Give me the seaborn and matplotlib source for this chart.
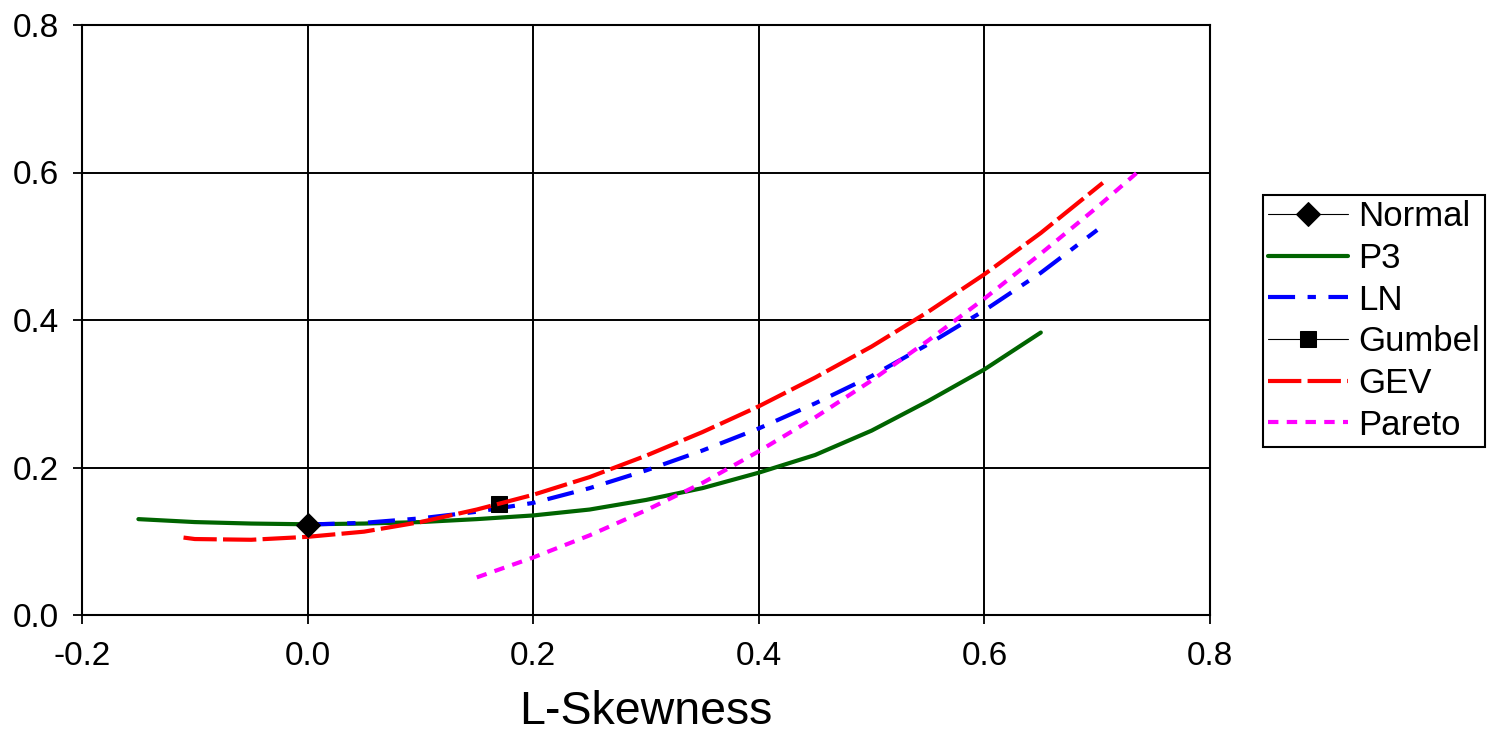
import matplotlib
matplotlib.use("Agg")
import matplotlib.pyplot as plt
import seaborn as sns
import pandas as pd
from matplotlib.ticker import FormatStrFormatter

# ---- data ----
normal_x = [0.0]
normal_y = [0.1226]

gumbel_x = [0.1699]
gumbel_y = [0.1504]

p3_x = [-0.15, -0.10, -0.05, 0.00, 0.05, 0.10, 0.15, 0.20, 0.25, 0.30,
        0.35, 0.40, 0.45, 0.50, 0.55, 0.60, 0.65]
p3_y = [0.130, 0.126, 0.124, 0.123, 0.124, 0.126, 0.130, 0.135, 0.143, 0.156,
        0.172, 0.193, 0.217, 0.250, 0.290, 0.333, 0.383]

ln_x = [0.00, 0.05, 0.10, 0.15, 0.20, 0.25, 0.30, 0.35, 0.40, 0.45,
        0.50, 0.55, 0.60, 0.65, 0.70]
ln_y = [0.1226, 0.125, 0.131, 0.140, 0.152, 0.172, 0.196, 0.223, 0.253, 0.287,
        0.324, 0.367, 0.413, 0.464, 0.522]

gev_x = [-0.11, -0.10, -0.05, 0.00, 0.05, 0.10, 0.15, 0.20, 0.25, 0.30,
         0.35, 0.40, 0.45, 0.50, 0.55, 0.60, 0.65, 0.705]
gev_y = [0.105, 0.103, 0.102, 0.106, 0.113, 0.126, 0.143, 0.163, 0.187, 0.216,
         0.248, 0.283, 0.322, 0.364, 0.411, 0.462, 0.518, 0.586]

pareto_x = [0.15, 0.20, 0.25, 0.30, 0.35, 0.40, 0.45, 0.50, 0.55, 0.60,
            0.65, 0.70, 0.74]
pareto_y = [0.051, 0.078, 0.108, 0.142, 0.179, 0.222, 0.268, 0.318, 0.372, 0.429,
            0.490, 0.553, 0.606]

x_ticks = [-0.2, 0.0, 0.2, 0.4, 0.6, 0.8]
y_ticks = [0.0, 0.2, 0.4, 0.6, 0.8]
x_label = "L-Skewness"

# ---- style ----
sns.set_style("white")
plt.rcParams['font.family'] = ['Liberation Sans', 'DejaVu Sans']
plt.rcParams['axes.unicode_minus'] = False
plt.rcParams['text.color'] = 'black'
plt.rcParams['axes.labelcolor'] = 'black'
plt.rcParams['xtick.color'] = 'black'
plt.rcParams['ytick.color'] = 'black'

fig = plt.figure(figsize=(14.89, 7.34), dpi=100)
ax = fig.add_axes([82 / 1489, 1 - 615 / 734, (1210 - 82) / 1489, (615 - 25) / 734])

lw = 3.0

def frame(x, y):
    return pd.DataFrame({"x": x, "y": y})

sns.lineplot(data=frame(normal_x, normal_y), x="x", y="y", ax=ax, color="black",
             marker="D", markersize=12, markeredgecolor="black", linewidth=0.8,
             label="Normal", sort=False, estimator=None, zorder=10)
sns.lineplot(data=frame(p3_x, p3_y), x="x", y="y", ax=ax, color="#006400",
             linewidth=lw, label="P3", sort=False, estimator=None, zorder=4)
sns.lineplot(data=frame(ln_x, ln_y), x="x", y="y", ax=ax, color="#0000FF",
             linewidth=lw, linestyle=(0, (6.5, 3, 2, 3)), label="LN",
             sort=False, estimator=None, zorder=5)
sns.lineplot(data=frame(gumbel_x, gumbel_y), x="x", y="y", ax=ax, color="black",
             marker="s", markersize=11, markeredgecolor="black", linewidth=0.8,
             label="Gumbel", sort=False, estimator=None, zorder=6)
sns.lineplot(data=frame(gev_x, gev_y), x="x", y="y", ax=ax, color="#FF0000",
             linewidth=lw, linestyle=(0, (8, 1.5)), label="GEV",
             sort=False, estimator=None, zorder=7)
sns.lineplot(data=frame(pareto_x, pareto_y), x="x", y="y", ax=ax, color="#FF00FF",
             linewidth=lw, linestyle=(0, (2.5, 2)), label="Pareto",
             sort=False, estimator=None, zorder=8)

ax.set_xlim(-0.2, 0.8)
ax.set_ylim(0.0, 0.8)
ax.set_xticks(x_ticks)
ax.set_yticks(y_ticks)
ax.xaxis.set_major_formatter(FormatStrFormatter('%.1f'))
ax.yaxis.set_major_formatter(FormatStrFormatter('%.1f'))
ax.grid(True, color="black", linewidth=1.4)
ax.set_axisbelow(True)
for s in ax.spines.values():
    s.set_color("black")
    s.set_linewidth(1.5)
ax.tick_params(axis="both", which="major", direction="out", length=6.5, width=1.3,
               color="black", labelcolor="black", labelsize=24, left=True, bottom=True)
ax.tick_params(axis="x", pad=12)
ax.tick_params(axis="y", pad=10)
ax.set_xlabel(x_label, fontsize=33.5, labelpad=13, color="black")
ax.set_ylabel("")

handles, labels = ax.get_legend_handles_labels()
leg = ax.legend(handles, labels, loc="upper left",
                bbox_to_anchor=(1263 / 1489, 1 - 195 / 734),
                bbox_transform=fig.transFigure, fontsize=25,
                frameon=True, fancybox=False, framealpha=1, edgecolor="black",
                borderpad=0.15, labelspacing=0.25, handlelength=2.3,
                handletextpad=0.3, borderaxespad=0, numpoints=1)
leg.get_frame().set_linewidth(1.5)
for t in leg.get_texts():
    t.set_color("black")

fig.savefig("out.png", dpi=100)
